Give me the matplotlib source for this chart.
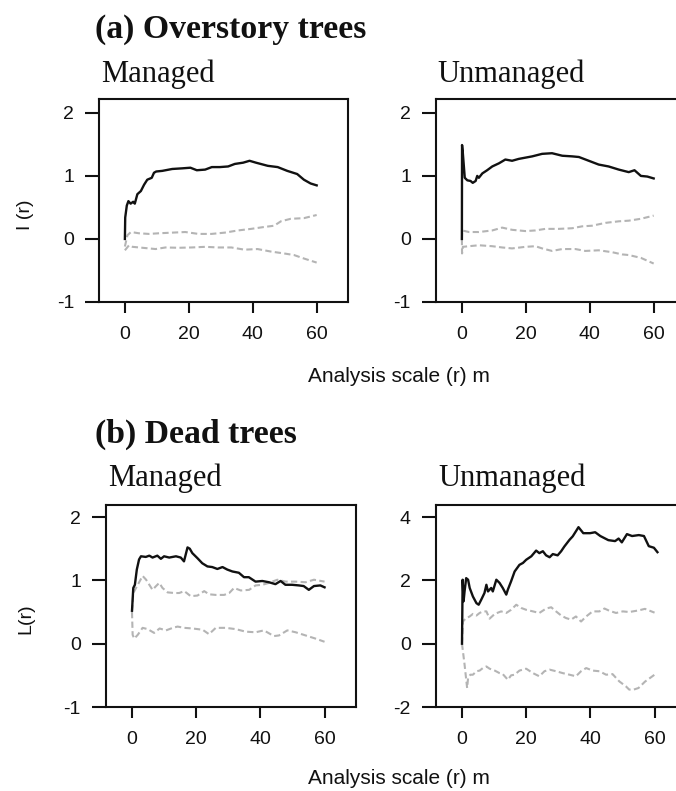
import matplotlib
matplotlib.use("Agg")
import matplotlib.pyplot as plt

# ---------------- data ----------------
x_ticks = [0, 20, 40, 60]

# (a) Overstory trees - Managed
ov_man_r = [0, 0.1, 0.6, 1.1, 1.8, 2.6, 3.1, 3.9, 5.0, 6.0, 7.0, 8.4, 9.1, 9.8, 11.7, 14.8, 17.9, 20.5, 22.5, 25.1,
            27.2, 29.7, 32.3, 34.4, 37.0, 39.0, 41.0, 44.7, 47.8, 50.8, 53.9, 56.0, 58.1, 60]
ov_man_L = [0.0, 0.34, 0.53, 0.60, 0.56, 0.59, 0.56, 0.71, 0.76, 0.86, 0.94, 0.97, 1.05, 1.07, 1.08, 1.11, 1.12, 1.13, 1.09, 1.10,
            1.14, 1.14, 1.15, 1.19, 1.21, 1.24, 1.21, 1.16, 1.14, 1.08, 1.03, 0.94, 0.88, 0.85]
ov_man_hi_r = [0, 0.8, 1.9, 4.4, 7.5, 10.6, 14.7, 18.9, 23.0, 27.1, 31.2, 35.4, 39.5, 43.6, 46.7, 48.8, 51.9, 56.0, 60]
ov_man_hi = [-0.12, 0.06, 0.11, 0.09, 0.08, 0.09, 0.10, 0.11, 0.08, 0.08, 0.10, 0.135, 0.16, 0.19, 0.21, 0.28, 0.32, 0.33, 0.38]
ov_man_lo_r = [0, 1.3, 2.4, 5.5, 9.6, 12.7, 16.8, 20.9, 25.1, 29.2, 33.3, 37.4, 41.5, 45.7, 49.8, 52.9, 56.0, 60]
ov_man_lo = [-0.18, -0.10, -0.125, -0.14, -0.16, -0.135, -0.14, -0.135, -0.125, -0.135, -0.135, -0.17, -0.16, -0.20,
             -0.23, -0.255, -0.31, -0.375]

# (a) Overstory trees - Unmanaged
ov_unm_r = [0, 0.05, 0.3, 0.9, 1.7, 2.7, 3.4, 4.3, 4.8, 5.3, 6.4, 7.9, 9.5, 11.6, 13.6, 15.7, 17.8, 19.9, 22.0, 25.1,
            28.2, 31.4, 34.5, 36.6, 39.7, 42.8, 45.9, 49.1, 52.2, 54, 56, 58, 60]
ov_unm_L = [0.0, 1.49, 1.36, 0.97, 0.93, 0.92, 0.89, 0.92, 1.0, 0.97, 1.04, 1.09, 1.15, 1.20, 1.26, 1.24, 1.27, 1.29, 1.31, 1.35,
            1.36, 1.32, 1.31, 1.30, 1.24, 1.18, 1.15, 1.10, 1.06, 1.09, 1.0, 0.99, 0.96]
ov_unm_hi_r = [0, 0.1, 2.2, 5.3, 9.5, 12.6, 15.7, 19.9, 23.0, 26.1, 30.3, 34.5, 37.6, 40.7, 44.9, 49.1, 52.2, 56, 60]
ov_unm_hi = [0.0, 0.135, 0.11, 0.11, 0.135, 0.18, 0.145, 0.125, 0.135, 0.16, 0.16, 0.17, 0.20, 0.21, 0.255, 0.28, 0.29, 0.32, 0.37]
ov_unm_lo_r = [0, 0.05, 0.3, 2.2, 5.3, 9.5, 12.6, 15.7, 19.9, 23.0, 25.1, 28.2, 31.4, 35.5, 38.6, 42.8, 47.0, 50.1, 52.2, 56, 60]
ov_unm_lo = [0.0, -0.23, -0.125, -0.115, -0.10, -0.115, -0.135, -0.15, -0.125, -0.115, -0.15, -0.19, -0.16, -0.16,
             -0.19, -0.18, -0.21, -0.245, -0.255, -0.30, -0.39]

# (b) Dead trees - Managed
dd_man_r = [0, 0.4, 0.9, 1.5, 2.2, 2.8, 4.3, 5.4, 6.4, 7.9, 9.0, 10.0, 11.6, 13.7, 15.2, 16.2, 17.3, 18.0, 18.8, 20.4,
            21.9, 23.5, 25.0, 26.6, 28.2, 29.7, 31.3, 33.3, 34.9, 36.4, 38.5, 40.6, 42.7, 44.7, 46.3, 47.8, 49.9, 52.0,
            53.5, 55.1, 56.7, 58.7, 60]
dd_man_L = [0.52, 0.88, 0.93, 1.17, 1.33, 1.38, 1.37, 1.39, 1.36, 1.39, 1.34, 1.38, 1.36, 1.38, 1.36, 1.30, 1.52, 1.50, 1.43, 1.35,
            1.27, 1.22, 1.21, 1.18, 1.21, 1.17, 1.14, 1.12, 1.05, 1.05, 0.98, 0.99, 0.97, 0.94, 0.99, 0.93, 0.93, 0.92,
            0.91, 0.85, 0.91, 0.92, 0.89]
dd_man_hi_r = [0, 0.4, 1.8, 3.3, 4.4, 5.4, 6.4, 7.5, 8.5, 9.5, 11.1, 13.2, 14.7, 16.3, 18.3, 20.4, 22.5, 24.0, 26.1, 28.7,
               30.3, 31.8, 33.9, 36.5, 38.5, 40.6, 42.7, 45.3, 47.9, 51.0, 54.1, 56.7, 60]
dd_man_hi = [0.51, 0.80, 0.93, 1.07, 1.01, 0.93, 0.85, 0.91, 0.96, 0.88, 0.81, 0.80, 0.80, 0.83, 0.75, 0.76, 0.83, 0.78, 0.77, 0.77,
             0.80, 0.88, 0.84, 0.85, 0.92, 0.93, 0.96, 1.01, 0.98, 0.98, 0.97, 1.01, 0.98]
dd_man_lo_r = [0, 0.2, 0.7, 1.8, 3.3, 4.9, 6.9, 8.6, 10.6, 12.7, 14.2, 16.3, 18.9, 22.0, 24.0, 26.1, 29.2, 32.3, 35.4, 38.5,
               41.1, 44.2, 45.8, 48.4, 51.0, 54.1, 57.2, 60]
dd_man_lo = [0.50, 0.14, 0.08, 0.14, 0.25, 0.23, 0.17, 0.24, 0.21, 0.25, 0.27, 0.25, 0.24, 0.22, 0.15, 0.25, 0.25, 0.23, 0.19, 0.18,
             0.21, 0.12, 0.13, 0.21, 0.18, 0.13, 0.08, 0.03]

# (b) Dead trees - Unmanaged
dd_unm_r = [0, 0.2, 0.5, 0.8, 1.3, 1.9, 2.4, 3.4, 4.5, 5.2, 6.0, 7.0, 7.6, 8.1, 9.1, 9.6, 10.7, 11.7, 12.7, 13.8,
            14.3, 15.3, 16.4, 17.9, 19.0, 20.0, 21.6, 23.1, 24.1, 25.2, 26.2, 27.3, 28.3, 29.8, 30.9, 31.9, 33.5, 34.5,
            35.5, 36.3, 37.8, 39.9, 41.5, 43.1, 45.6, 47.7, 48.8, 49.8, 51.4, 53.0, 55.1, 56.7, 58.2, 59.8, 60.9]
dd_unm_L = [0.0, 2.02, 1.34, 1.65, 2.07, 2.02, 1.76, 1.49, 1.28, 1.23, 1.39, 1.60, 1.86, 1.65, 1.76, 1.65, 2.02, 1.92, 1.76, 1.55,
            1.71, 1.97, 2.28, 2.49, 2.55, 2.65, 2.76, 2.94, 2.86, 2.92, 2.79, 2.73, 2.83, 2.79, 2.92, 3.07, 3.28, 3.39,
            3.55, 3.68, 3.49, 3.49, 3.52, 3.40, 3.27, 3.24, 3.32, 3.20, 3.46, 3.40, 3.43, 3.40, 3.08, 3.03, 2.89]
dd_unm_hi_r = [0, 0.3, 1.1, 2.4, 3.4, 4.5, 5.5, 6.5, 7.6, 8.6, 10.2, 12.2, 13.8, 15.3, 16.9, 18.4, 20.0, 22.1, 24.1, 26.2,
               27.8, 29.3, 30.9, 32.4, 34.0, 35.5, 37.1, 38.7, 40.7, 42.8, 44.4, 45.9, 48.0, 50.1, 52.1, 55, 57, 60]
dd_unm_hi = [0.0, 0.7, 0.79, 0.86, 0.94, 0.89, 0.97, 1.02, 1.02, 0.79, 0.94, 1.02, 0.97, 1.07, 1.23, 1.13, 1.07, 1.02, 0.97, 1.11,
             1.15, 1.02, 0.89, 0.81, 0.76, 0.86, 0.70, 0.86, 1.02, 1.02, 1.11, 1.04, 0.97, 1.02, 1.0, 1.05, 1.1, 0.98]
dd_unm_lo_r = [0, 0.8, 1.6, 1.9, 2.6, 3.4, 4.5, 5.5, 6.5, 7.6, 8.6, 10.2, 11.7, 12.7, 14.3, 15.3, 16.4, 17.9, 20.0, 22.1,
               24.1, 25.7, 27.3, 29.3, 31.4, 33.5, 35.5, 37.1, 38.7, 40.7, 42.8, 44.9, 46.9, 49.0, 51.1, 52.1, 53.5, 55, 57, 60]
dd_unm_lo = [0.0, -0.66, -1.4, -1.08, -0.98, -0.98, -0.87, -0.85, -0.77, -0.72, -0.79, -0.85, -0.93, -0.96, -1.14, -1.0, -0.98,
             -0.85, -0.79, -0.93, -1.03, -0.87, -0.82, -0.87, -0.93, -0.98, -1.03, -0.87, -0.77, -0.85, -0.87, -0.98, -0.96,
             -1.19, -1.35, -1.45, -1.45, -1.4, -1.2, -0.98]

# ---------------- layout ----------------
W, H = 676, 791
fig = plt.figure(figsize=(W / 100, H / 100), dpi=100)
fig.patch.set_facecolor("white")

SANS = "Liberation Sans"
SERIF = "Liberation Serif"


def px_axes(left, top, right, bottom):
    return fig.add_axes([left / W, 1 - bottom / H, (right - left) / W, (bottom - top) / H])


def fig_text(x, y, s, **kw):
    fig.text(x / W, 1 - y / H, s, **kw)


def panel(rect, ylim, yticks, obs, hi, lo):
    ax = px_axes(*rect)
    ax.plot(hi[0], hi[1], color="#b4b4b4", lw=1.5, dashes=(3.0, 1.6))
    ax.plot(lo[0], lo[1], color="#b4b4b4", lw=1.5, dashes=(3.0, 1.6))
    ax.plot(obs[0], obs[1], color="#111111", lw=1.7)
    ax.set_xlim(-8.1, 69.8)
    ax.set_ylim(*ylim)
    ax.set_xticks(x_ticks)
    ax.set_yticks(yticks)
    ax.set_xticklabels([str(t) for t in x_ticks], fontfamily=SANS, fontsize=14)
    ax.set_yticklabels([str(t) for t in yticks], fontfamily=SANS, fontsize=14)
    ax.tick_params(axis="x", direction="out", length=8, width=1.5, pad=9, colors="#111111")
    ax.tick_params(axis="y", direction="out", length=10, width=1.5, pad=8, colors="#111111")
    for sp in ax.spines.values():
        sp.set_linewidth(1.5)
        sp.set_color("#111111")
    return ax


panel((99, 99, 348, 302), (-1, 2.22), [-1, 0, 1, 2],
      (ov_man_r, ov_man_L), (ov_man_hi_r, ov_man_hi), (ov_man_lo_r, ov_man_lo))
panel((436, 99, 685, 302), (-1, 2.22), [-1, 0, 1, 2],
      (ov_unm_r, ov_unm_L), (ov_unm_hi_r, ov_unm_hi), (ov_unm_lo_r, ov_unm_lo))
panel((106, 505, 356, 707), (-1, 2.19), [-1, 0, 1, 2],
      (dd_man_r, dd_man_L), (dd_man_hi_r, dd_man_hi), (dd_man_lo_r, dd_man_lo))
panel((436, 505, 686, 707), (-2, 4.38), [-2, 0, 2, 4],
      (dd_unm_r, dd_unm_L), (dd_unm_hi_r, dd_unm_hi), (dd_unm_lo_r, dd_unm_lo))

# titles
fig_text(95, 38, "(a) Overstory trees", fontfamily=SERIF, fontweight="bold", fontsize=24.3,
         ha="left", va="baseline", color="#111111")
fig_text(101, 82, "Managed", fontfamily=SERIF, fontsize=22, ha="left", va="baseline", color="#111111")
fig_text(437, 82, "Unmanaged", fontfamily=SERIF, fontsize=22, ha="left", va="baseline", color="#111111")

fig_text(95, 443, "(b) Dead trees", fontfamily=SERIF, fontweight="bold", fontsize=24.3,
         ha="left", va="baseline", color="#111111")
fig_text(108, 486, "Managed", fontfamily=SERIF, fontsize=22, ha="left", va="baseline", color="#111111")
fig_text(438, 486, "Unmanaged", fontfamily=SERIF, fontsize=22, ha="left", va="baseline", color="#111111")

# axis labels
fig_text(399, 377, "Analysis scale (r) m", fontfamily=SANS, fontsize=15, ha="center", va="center", color="#111111")
fig_text(399, 778, "Analysis scale (r) m", fontfamily=SANS, fontsize=15, ha="center", va="center", color="#111111")
fig_text(25, 215, "I (r)", fontfamily=SANS, fontsize=14, rotation=90, ha="center", va="center", color="#111111")
fig_text(26, 619, "L(r)", fontfamily=SANS, fontsize=14, rotation=90, ha="center", va="center", color="#111111")

fig.savefig("out.png", dpi=100, facecolor="white")
